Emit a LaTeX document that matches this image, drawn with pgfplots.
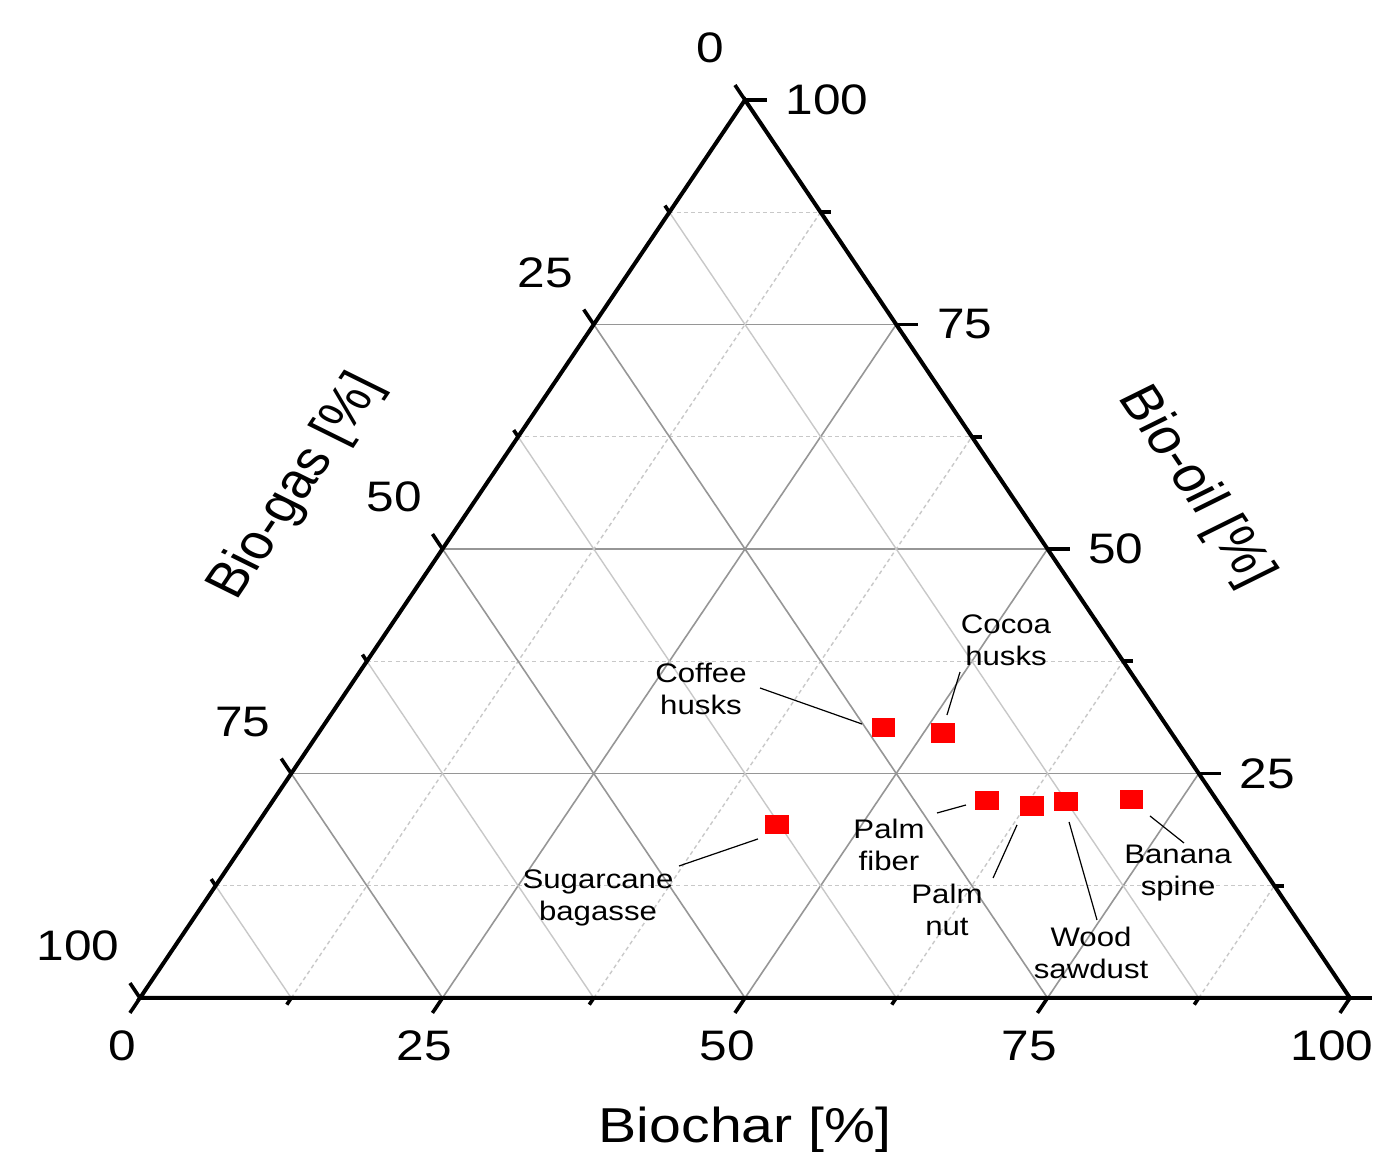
\documentclass[border=0pt]{standalone}
\usepackage{fontspec}
\setmainfont{Liberation Sans}
\usepackage{pgfplots}
\pgfplotsset{compat=1.18}
\usepackage{pgfplotstable}

% Biochar, Bio-oil, Bio-gas in %
\pgfplotstableread{
biochar biooil biogas
46.4 30.1 23.5
51.6 29.5 18.9
59.0 22.0 19.0
63.0 21.4 15.6
65.6 21.9 12.5
70.9 22.1 7.0
43.0 19.3 37.7
}\yields

\definecolor{majgrid}{RGB}{150,150,150}
\definecolor{mingrid}{RGB}{200,200,200}
\tikzset{
  ticklab/.style={font=\fontsize{12.4}{14}\selectfont, inner sep=0pt, yscale=0.86},
  ann/.style={font=\fontsize{7.8}{9.3}\selectfont, align=center, inner sep=0pt, yscale=0.86},
  ttl/.style={font=\fontsize{14.3}{16}\selectfont, inner sep=0pt},
  maj/.style={majgrid, line width=0.4pt},
  minsolid/.style={mingrid, line width=0.35pt},
  mindash/.style={mingrid, line width=0.35pt, dash pattern=on 1pt off 0.8pt},
  tk/.style={black, line width=0.9pt},
}

\begin{document}
\begin{tikzpicture}
\path[use as bounding box] (-35pt,-38.5pt) rectangle (310pt,249.5pt);
\begin{axis}[
  scale only axis, width=302.5pt, height=224.5pt,
  at={(0,0)}, anchor=south west,
  xmin=0, xmax=100, ymin=0, ymax=100,
  axis lines=none, clip=false,
]
% ---- grid: horizontal (Bio-oil constant)
\draw[mindash] (axis cs:6.25,12.5) -- (axis cs:93.75,12.5);
\draw[maj]     (axis cs:12.5,25) -- (axis cs:87.5,25);
\draw[mindash] (axis cs:18.75,37.5) -- (axis cs:81.25,37.5);
\draw[maj]     (axis cs:25,50) -- (axis cs:75,50);
\draw[mindash] (axis cs:31.25,62.5) -- (axis cs:68.75,62.5);
\draw[maj]     (axis cs:37.5,75) -- (axis cs:62.5,75);
\draw[mindash] (axis cs:43.75,87.5) -- (axis cs:56.25,87.5);
% ---- grid: Biochar constant (/)
\draw[mindash] (axis cs:12.5,0) -- (axis cs:56.25,87.5);
\draw[maj]     (axis cs:25,0) -- (axis cs:62.5,75);
\draw[mindash] (axis cs:37.5,0) -- (axis cs:68.75,62.5);
\draw[maj]     (axis cs:50,0) -- (axis cs:75,50);
\draw[mindash] (axis cs:62.5,0) -- (axis cs:81.25,37.5);
\draw[maj]     (axis cs:75,0) -- (axis cs:87.5,25);
\draw[mindash] (axis cs:87.5,0) -- (axis cs:93.75,12.5);
% ---- grid: Bio-gas constant (\)
\draw[minsolid] (axis cs:43.75,87.5) -- (axis cs:87.5,0);
\draw[maj]      (axis cs:37.5,75) -- (axis cs:75,0);
\draw[minsolid] (axis cs:31.25,62.5) -- (axis cs:62.5,0);
\draw[maj]      (axis cs:25,50) -- (axis cs:50,0);
\draw[minsolid] (axis cs:18.75,37.5) -- (axis cs:37.5,0);
\draw[maj]      (axis cs:12.5,25) -- (axis cs:25,0);
\draw[minsolid] (axis cs:6.25,12.5) -- (axis cs:12.5,0);
% ---- triangle
\draw[black, line width=1pt, line join=miter] (axis cs:0,0) -- (axis cs:100,0) -- (axis cs:50,100) -- cycle;
% ---- bottom ticks (Biochar)
\pgfplotsinvokeforeach{0,25,50,75,100}{\draw[tk] (axis cs:#1,0) -- ++(-2.51pt,-3.73pt);}
\pgfplotsinvokeforeach{12.5,37.5,62.5,87.5}{\draw[tk] (axis cs:#1,0) -- ++(-1.12pt,-1.66pt);}
% ---- left ticks (Bio-gas)
\draw[tk] (axis cs:50,100) -- ++(-2.51pt,3.73pt);
\draw[tk] (axis cs:37.5,75) -- ++(-2.51pt,3.73pt);
\draw[tk] (axis cs:25,50) -- ++(-2.51pt,3.73pt);
\draw[tk] (axis cs:12.5,25) -- ++(-2.51pt,3.73pt);
\draw[tk] (axis cs:0,0) -- ++(-2.51pt,3.73pt);
\draw[tk] (axis cs:43.75,87.5) -- ++(-1.12pt,1.66pt);
\draw[tk] (axis cs:31.25,62.5) -- ++(-1.12pt,1.66pt);
\draw[tk] (axis cs:18.75,37.5) -- ++(-1.12pt,1.66pt);
\draw[tk] (axis cs:6.25,12.5) -- ++(-1.12pt,1.66pt);
% ---- right ticks (Bio-oil)
\draw[tk] (axis cs:100,0) -- ++(5.5pt,0pt);
\draw[tk] (axis cs:87.5,25) -- ++(5.5pt,0pt);
\draw[tk] (axis cs:75,50) -- ++(5.5pt,0pt);
\draw[tk] (axis cs:62.5,75) -- ++(5.5pt,0pt);
\draw[tk] (axis cs:50,100) -- ++(5.5pt,0pt);
\draw[tk] (axis cs:93.75,12.5) -- ++(2.5pt,0pt);
\draw[tk] (axis cs:81.25,37.5) -- ++(2.5pt,0pt);
\draw[tk] (axis cs:68.75,62.5) -- ++(2.5pt,0pt);
\draw[tk] (axis cs:56.25,87.5) -- ++(2.5pt,0pt);
% ---- tick labels
\pgfplotsinvokeforeach{0,25,50,75,100}{\node[ticklab, anchor=north] at ([xshift=-4.5pt,yshift=-8pt]axis cs:#1,0) {#1};}
\node[ticklab, anchor=south east] at ([xshift=-5pt,yshift=9pt]axis cs:50,100) {0};
\node[ticklab, anchor=south east] at ([xshift=-5pt,yshift=9pt]axis cs:37.5,75) {25};
\node[ticklab, anchor=south east] at ([xshift=-5pt,yshift=9pt]axis cs:25,50) {50};
\node[ticklab, anchor=south east] at ([xshift=-5pt,yshift=9pt]axis cs:12.5,25) {75};
\node[ticklab, anchor=south east] at ([xshift=-5pt,yshift=9pt]axis cs:0,0) {100};
\node[ticklab, anchor=west] at ([xshift=10pt]axis cs:50,100) {100};
\node[ticklab, anchor=west] at ([xshift=10pt]axis cs:62.5,75) {75};
\node[ticklab, anchor=west] at ([xshift=10pt]axis cs:75,50) {50};
\node[ticklab, anchor=west] at ([xshift=10pt]axis cs:87.5,25) {25};
% ---- axis titles
\node[ttl, yscale=0.857] at (axis cs:50,-14.7) {Biochar [\%]};
\node[ttl, yscale=0.857, rotate=-60] at (axis cs:87.2,56.9) {Bio-oil [\%]};
\node[ttl, yscale=0.857, rotate=60] at (axis cs:12.98,56.9) {Bio-gas [\%]};
% ---- leader lines
\draw[black, line width=0.3pt] (axis cs:51.24,34.52) -- (axis cs:59.67,30.51);
\draw[black, line width=0.3pt] (axis cs:67.77,36.30) -- (axis cs:66.69,31.51);
\draw[black, line width=0.3pt] (axis cs:65.87,20.60) -- (axis cs:68.26,21.49);
\draw[black, line width=0.3pt] (axis cs:70.50,13.36) -- (axis cs:72.48,19.27);
\draw[black, line width=0.3pt] (axis cs:79.09,8.69) -- (axis cs:76.78,19.60);
\draw[black, line width=0.3pt] (axis cs:86.28,17.26) -- (axis cs:83.47,20.27);
\draw[black, line width=0.3pt] (axis cs:44.55,14.70) -- (axis cs:51.07,17.71);
% ---- data
\addplot[only marks, mark=square*, mark size=2.25pt, color=red,
  mark options={xscale=1.22, fill=red, draw=red}]
  table[x expr=\thisrow{biochar}+0.5*\thisrow{biooil}, y expr=\thisrow{biooil}] {\yields};
% ---- annotations
\node[ann] at (axis cs:46.36,34.41) {Coffee\\husks};
\node[ann] at (axis cs:71.57,39.87) {Cocoa\\husks};
\node[ann] at (axis cs:61.90,17.04) {Palm\\fiber};
\node[ann] at (axis cs:66.69,9.80) {Palm\\nut};
\node[ann] at (axis cs:78.60,5.01) {Wood\\sawdust};
\node[ann] at (axis cs:85.79,13.92) {Banana\\spine};
\node[ann] at (axis cs:37.85,11.14) {Sugarcane\\bagasse};
\end{axis}
\end{tikzpicture}
\end{document}
